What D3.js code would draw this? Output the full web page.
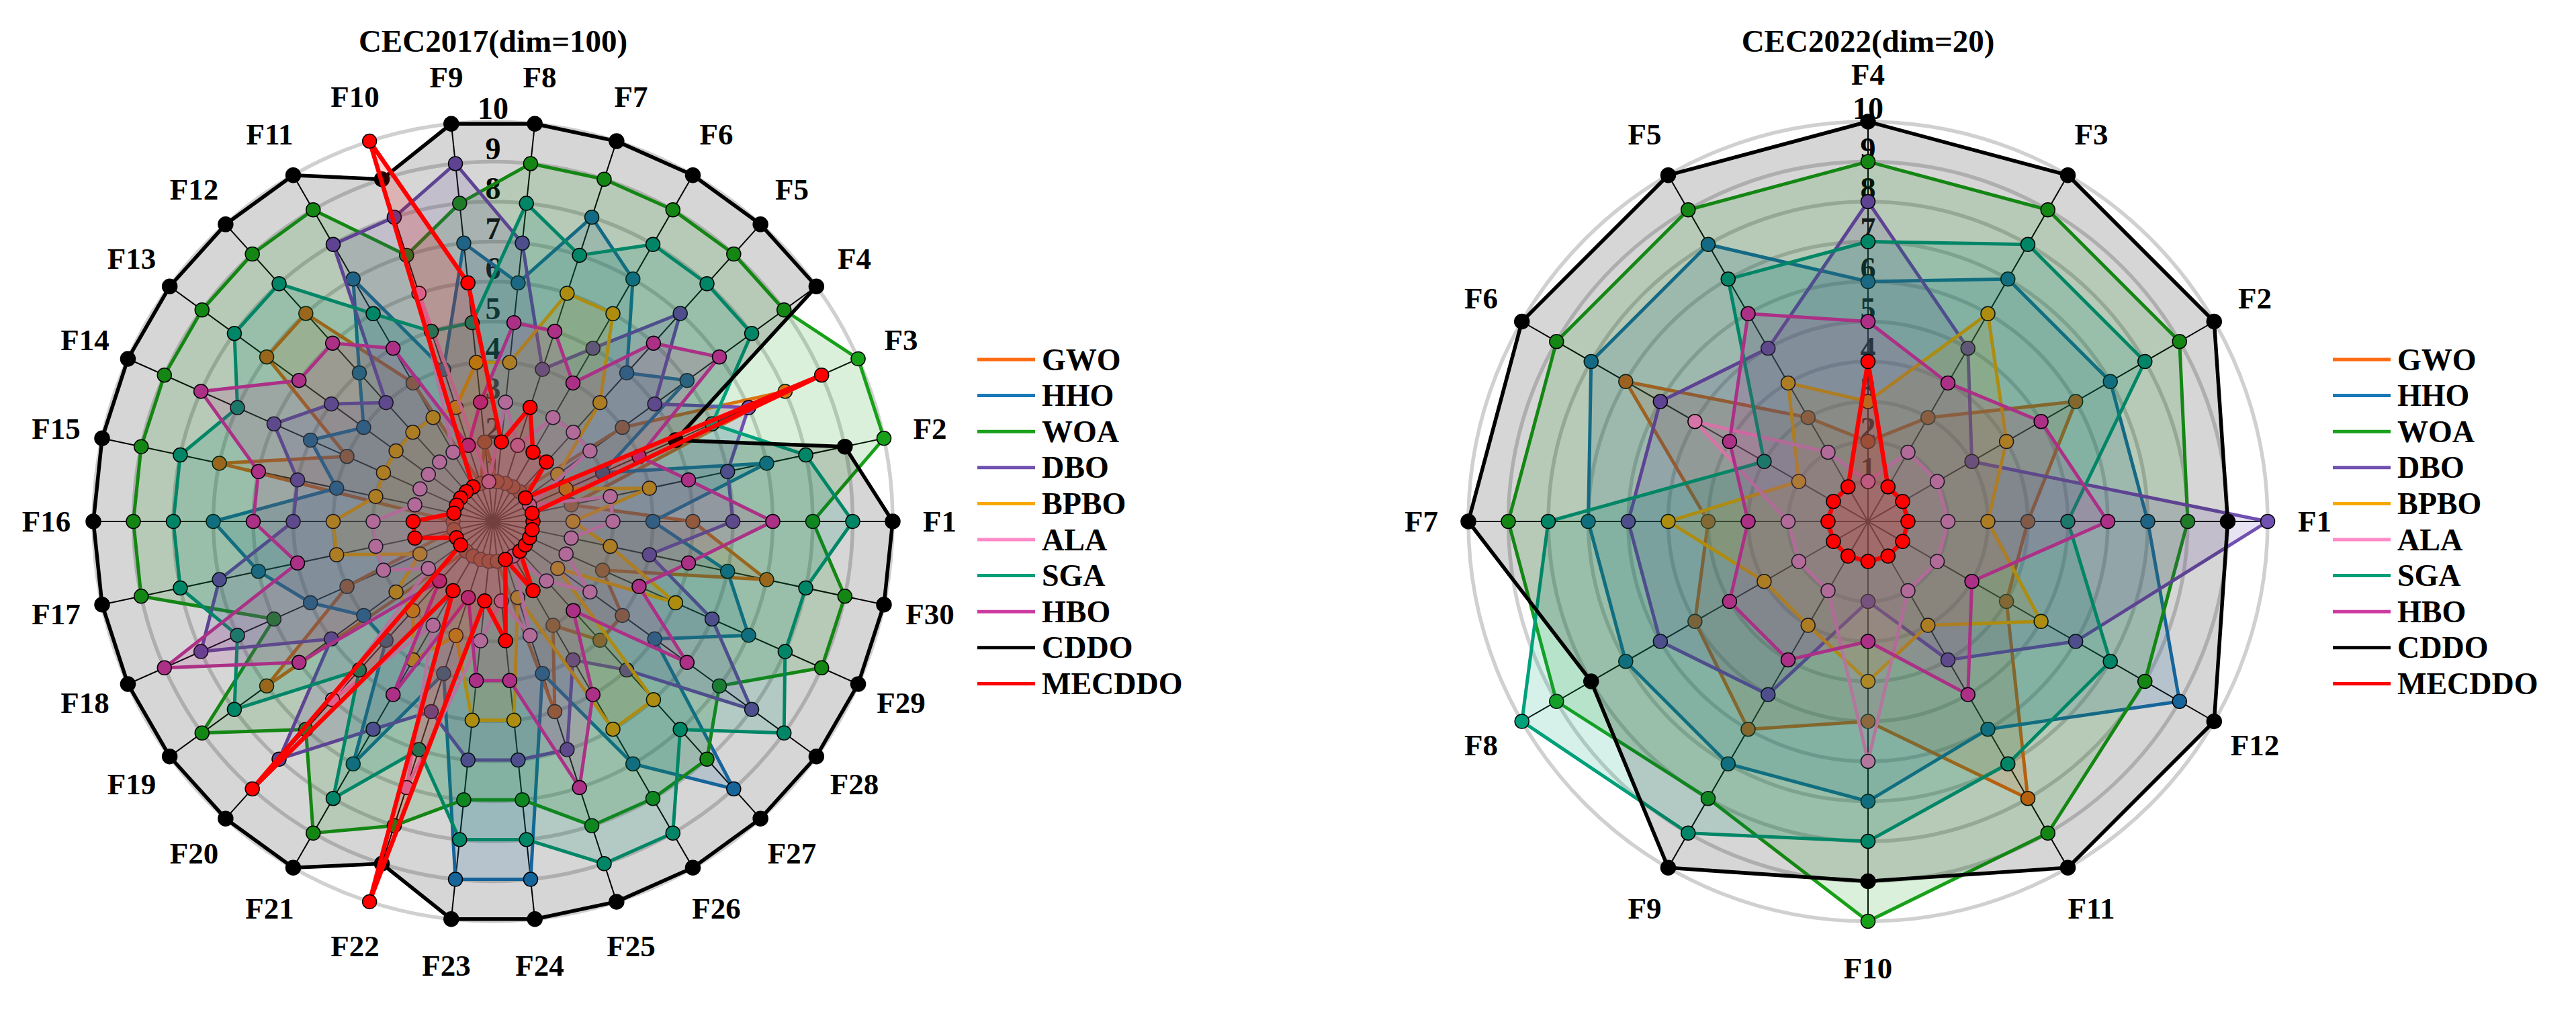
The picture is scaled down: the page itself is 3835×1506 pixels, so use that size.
<!DOCTYPE html>
<html><head><meta charset="utf-8">
<script src="https://cdn.jsdelivr.net/npm/d3@7"></script>
<style>body{margin:0;background:#fff}svg{display:block}</style>
</head><body>
<svg id="c" width="3835" height="1506"></svg>
<script>
// ---------- data ----------
const seriesNames = ["GWO","HHO","WOA","DBO","BPBO","ALA","SGA","HBO","CDDO","MECDDO"];
const seriesColors = ["#FF6A10","#1A78B8","#18A018","#7050B0","#F7A800","#FF8AC8","#00A07A","#CC3AA0","#000000","#FF0000"];
const tickValues = [1,2,3,4,5,6,7,8,9,10];

const funcs2017 = ["F1","F2","F3","F4","F5","F6","F7","F8","F9","F10","F11","F12","F13","F14","F15","F16","F17","F18","F19","F20","F21","F22","F23","F24","F25","F26","F27","F28","F29","F30"];
const gwo2017    = [5,2,8,4,1,1,1,1,2,1,4,7,7,4,7,1,1,4,7,1,1,1,1,1,5,3,4,4,3,7];
const hho2017    = [4,7,3,6,5,7,8,6,7,4,7,5,4,5,4,7,6,5,4,4,7,4,9,9,4,7,9,5,7,6];
const woa2017    = [8,10,10,9,9,9,9,9,8,7,9,9,9,9,9,9,9,6,9,7,9,8,7,7,8,8,8,7,9,9];
const dbo2017    = [6,6,7,5,7,5,4,7,9,8,8,4,5,6,5,5,7,8,5,8,6,5,6,6,6,4,5,8,6,4];
const bpbo2017   = [2,4,2,2,4,6,6,4,4,3,3,3,3,3,3,4,4,2,3,3,4,3,5,5,2,6,6,2,5,3];
const ala2017    = [3,3,1,3,3,3,2,3,1,6,2,2,2,2,2,3,3,3,2,6,3,7,3,2,3,1,2,3,2,2];
const sga2017    = [9,8,6,8,8,8,7,8,5,5,6,8,8,7,8,8,8,7,8,5,8,6,8,8,9,9,7,9,8,8];
const hbo2017    = [7,5,4,7,6,4,5,5,3,2,5,6,6,8,6,6,5,9,6,2,5,2,4,4,7,5,3,6,4,5];
const cddo2017   = [10,9,5,10,10,10,10,10,10,9,10,10,10,10,10,10,10,10,10,10,10,9,10,10,10,10,10,10,10,10];
const mecddo2017 = [1,1,9,1,2,2,3,2,6,10,1,1,1,1,1,2,2,1,1,9,2,10,2,3,1,2,1,1,1,1];

const funcs2022 = ["F1","F2","F3","F4","F5","F6","F7","F8","F9","F10","F11","F12"];
const gwo2022    = [4,6,3,2,3,7,4,5,6,5,8,4];
const hho2022    = [7,7,7,6,8,8,7,7,7,7,6,9];
const woa2022    = [8,9,9,9,9,9,9,9,8,10,9,8];
const dbo2022    = [10,3,5,8,5,6,6,6,5,2,4,6];
const bpbo2022   = [3,4,6,3,4,2,5,3,3,4,3,5];
const ala2022    = [2,2,2,1,2,5,2,2,2,6,2,2];
const sga2022    = [5,8,8,7,7,3,8,10,9,8,7,7];
const hbo2022    = [6,5,4,5,6,4,3,4,4,3,5,3];
const cddo2022   = [9,10,10,10,10,10,10,8,10,9,10,10];
const mecddo2022 = [1,1,1,4,1,1,1,1,1,1,1,1];

// ---------- drawing ----------
const svg = d3.select("#c");
svg.append("rect").attr("width",3835).attr("height",1506).attr("fill","#fff");
const FONT = "'Liberation Serif','Times New Roman',serif";

function radar(opts){
  const {cx, cy, R, title, funcs, data} = opts;
  const n = funcs.length;
  const r = d3.scaleLinear().domain([0,10]).range([0,R]);
  const theta = d3.scaleLinear().domain([0,n]).range([0,2*Math.PI]);
  const d3ang = i => Math.PI/2 - theta(i);
  const g = svg.append("g").attr("transform",`translate(${cx},${cy})`);

  g.append("g").selectAll("circle").data(tickValues).join("circle")
    .attr("r", d=>r(d)).attr("fill","none").attr("stroke","#d0d0d0").attr("stroke-width",5.5);
  g.append("g").selectAll("line").data(d3.range(n)).join("line")
    .attr("x1",0).attr("y1",0)
    .attr("x2", i=>r(10)*Math.cos(theta(i))).attr("y2", i=>-r(10)*Math.sin(theta(i)))
    .attr("stroke","#000").attr("stroke-width",2);
  g.append("g").selectAll("text").data(tickValues).join("text")
    .attr("x",0).attr("y", d=>-r(d)-4)
    .attr("text-anchor","middle")
    .attr("font-family",FONT).attr("font-weight","bold").attr("font-size",46)
    .attr("fill","#000").text(d=>d);
  g.append("g").selectAll("text").data(funcs).join("text")
    .attr("x",(d,i)=>665*Math.cos(theta(i))).attr("y",(d,i)=>-665*Math.sin(theta(i)))
    .attr("text-anchor","middle").attr("dominant-baseline","central")
    .attr("font-family",FONT).attr("font-weight","bold").attr("font-size",45)
    .attr("fill","#000").text(d=>d);
  svg.append("text").attr("x",cx).attr("y",61)
    .attr("text-anchor","middle").attr("dominant-baseline","central")
    .attr("font-family",FONT).attr("font-weight","bold").attr("font-size",47)
    .text(title);

  const line = d3.lineRadial().angle((d,i)=>d3ang(i)).radius(d=>r(d)).curve(d3.curveLinearClosed);
  data.forEach((vals, s)=>{
    const col = seriesColors[s];
    const sg = g.append("g");
    const lw = s===9 ? 6.5 : (s===8 ? 5.5 : 5);
    sg.append("path").attr("d", line(vals))
      .attr("fill", col).attr("fill-opacity", 0.16)
      .attr("stroke", col).attr("stroke-width", lw).attr("stroke-linejoin","round");
    sg.selectAll("circle").data(vals).join("circle")
      .attr("cx",(d,i)=>r(d)*Math.cos(theta(i)))
      .attr("cy",(d,i)=>-r(d)*Math.sin(theta(i)))
      .attr("r", s===8 ? 11 : 10.5)
      .attr("fill", col).attr("stroke","#000").attr("stroke-width",1.5);
  });
}

function legend(x0, y0){
  const step = 53.6;
  const lg = svg.append("g");
  seriesNames.forEach((name,i)=>{
    const y = y0 + i*step;
    lg.append("line").attr("x1",x0).attr("x2",x0+86).attr("y1",y).attr("y2",y)
      .attr("stroke",seriesColors[i]).attr("stroke-width",5);
    lg.append("text").attr("x",x0+96).attr("y",y).attr("dominant-baseline","central")
      .attr("font-family",FONT).attr("font-weight","bold").attr("font-size",46)
      .text(name);
  });
}

radar({cx:734, cy:776, R:595, title:"CEC2017(dim=100)", funcs:funcs2017,
  data:[gwo2017,hho2017,woa2017,dbo2017,bpbo2017,ala2017,sga2017,hbo2017,cddo2017,mecddo2017]});
radar({cx:2781, cy:776, R:595, title:"CEC2022(dim=20)", funcs:funcs2022,
  data:[gwo2022,hho2022,woa2022,dbo2022,bpbo2022,ala2022,sga2022,hbo2022,cddo2022,mecddo2022]});
legend(1455, 535);
legend(3473, 535);
</script>
</body></html>
